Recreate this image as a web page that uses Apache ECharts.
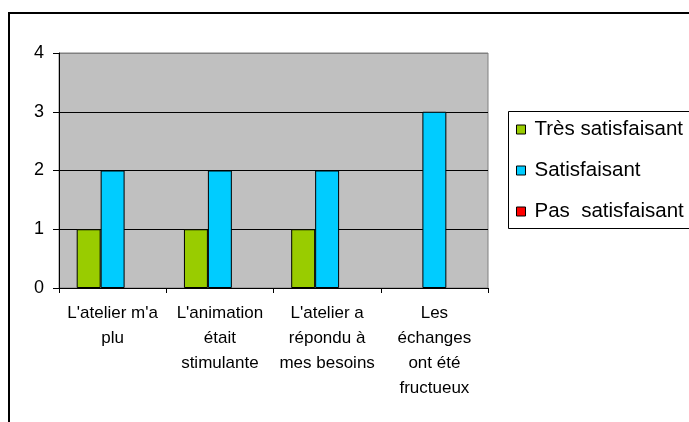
<!DOCTYPE html>
<html><head><meta charset="utf-8">
<script src="https://cdn.jsdelivr.net/npm/echarts@6/dist/echarts.min.js"></script>
<style>html,body{margin:0;padding:0;background:#fff}#c{width:689px;height:422px}</style>
</head><body><div id="c"></div>
<script>
const categories = ["L'atelier m'a\nplu", "L'animation\nétait\nstimulante", "L'atelier a\nrépondu à\nmes besoins", "Les\néchanges\nont été\nfructueux"];
const seriesNames = ["Très satisfaisant", "Satisfaisant", "Pas  satisfaisant"];
const tresSatisfaisant = [1, 1, 1, 0];
const satisfaisant = [2, 2, 2, 3];
const pasSatisfaisant = [0, 0, 0, 0];
const colors = ["#99CC00", "#00CCFF", "#FF0000"];
const FONT = "Liberation Sans";

const chart = echarts.init(document.getElementById('c'));
const mk = (name, data, color) => ({
  name, type: 'bar', barGap: 0, barCategoryGap: '33%',
  data: data.map(v => v === 0 ? { value: v, itemStyle: { borderWidth: 0 } } : v),
  itemStyle: { color, borderColor: '#000', borderWidth: 1 }
});
chart.setOption({
  animation: false,
  textStyle: { fontFamily: FONT, color: '#000' },
  graphic: [
    { type: 'rect', shape: { x: 9, y: 13, width: 720, height: 500 }, style: { fill: 'none', stroke: '#000', lineWidth: 2 }, z: 0 },
    { type: 'rect', shape: { x: 508.5, y: 111.5, width: 220, height: 117 }, style: { fill: '#fff', stroke: '#000', lineWidth: 1 }, z: 1 }
  ],
  grid: { left: 59, right: 201, top: 53, bottom: 134, show: true, backgroundColor: '#C0C0C0', borderColor: '#808080', borderWidth: 1 },
  legend: {
    orient: 'vertical', left: 516, top: 119, itemGap: 20, itemWidth: 9, itemHeight: 9, icon: 'rect',
    textStyle: { fontFamily: FONT, fontSize: 20.5, color: '#000', padding: [0,0,0,4] },
    itemStyle: { borderColor: '#000', borderWidth: 1 },
    padding: 0,
    data: seriesNames, z: 5
  },
  xAxis: {
    type: 'category', data: categories,
    axisLine: { lineStyle: { color: '#000', width: 1 } },
    axisTick: { show: true, length: 5, interval: 0, lineStyle: { color: '#000' } },
    axisLabel: { interval: 0, fontFamily: FONT, fontSize: 17, color: '#000', lineHeight: 25, margin: 13 }
  },
  yAxis: {
    type: 'value', min: 0, max: 4, interval: 1,
    axisLine: { show: true, lineStyle: { color: '#000', width: 1 } },
    axisTick: { show: true, length: 6, lineStyle: { color: '#000' } },
    axisLabel: { fontFamily: FONT, fontSize: 18, color: '#000', margin: 15 },
    splitLine: { show: true, lineStyle: { color: ['#000', '#000', '#000', '#000', '#808080'], width: 1 } }
  },
  series: [
    mk(seriesNames[0], tresSatisfaisant, colors[0]),
    mk(seriesNames[1], satisfaisant, colors[1]),
    mk(seriesNames[2], pasSatisfaisant, colors[2])
  ]
});
</script></body></html>
